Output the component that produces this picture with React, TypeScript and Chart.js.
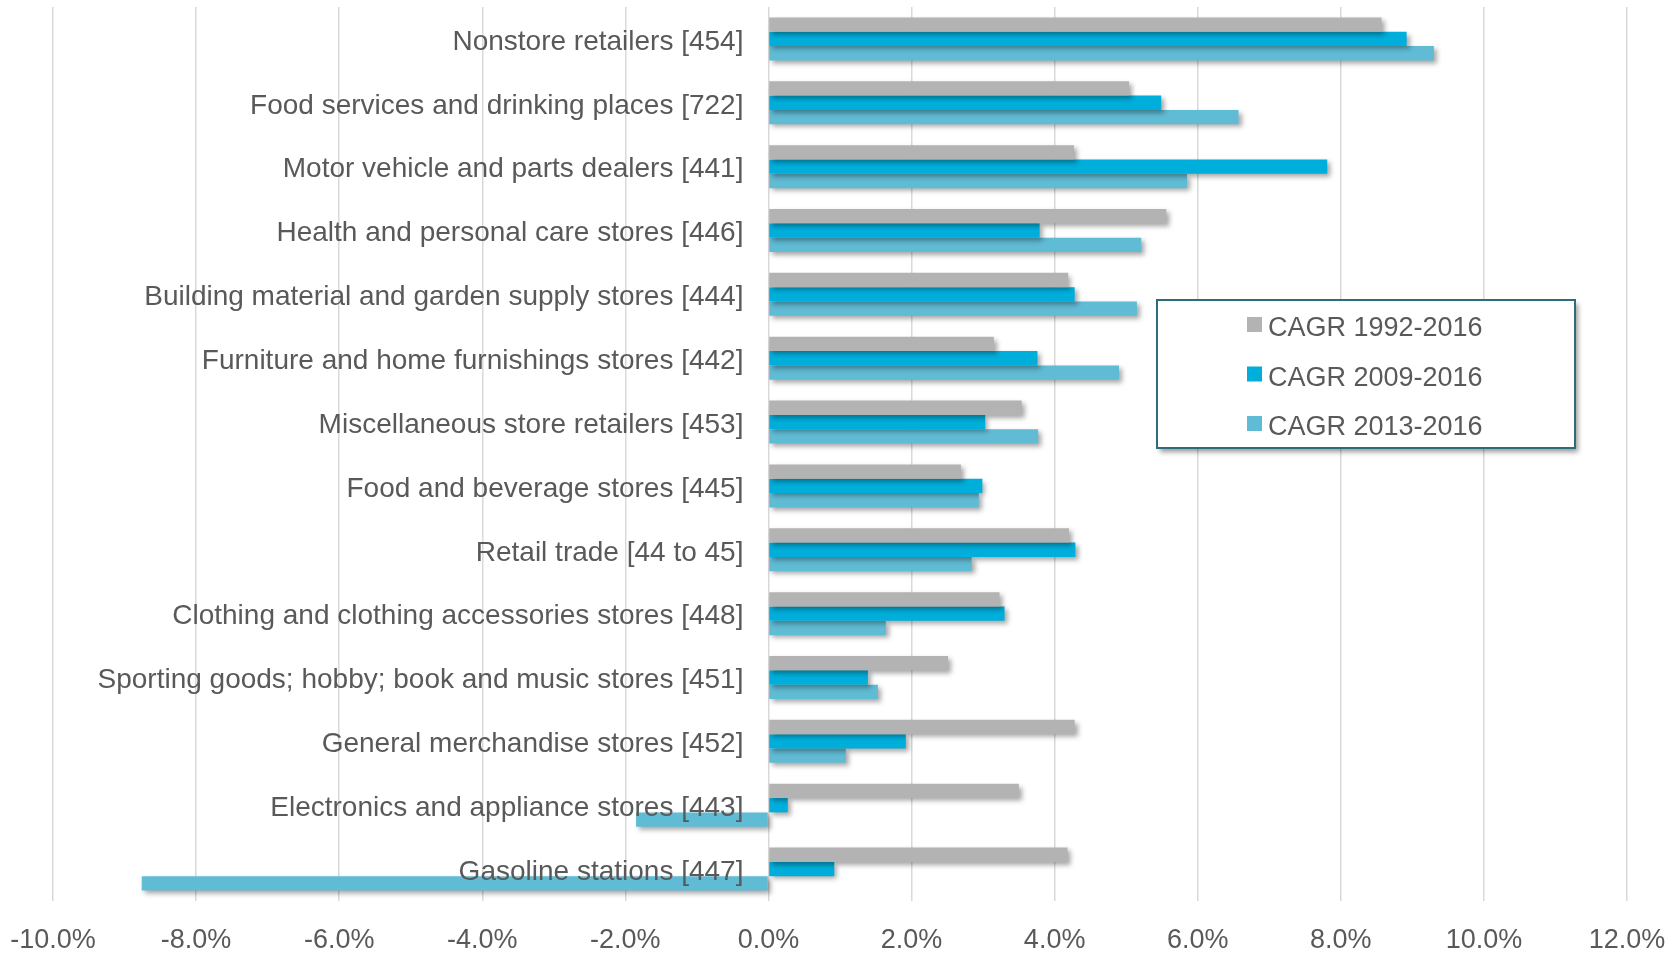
import React, { useEffect, useRef } from 'react';
import { Chart, registerables } from 'chart.js';

Chart.register(...registerables);

const CATEGORIES = [
  'Nonstore retailers [454]',
  'Food services and drinking places [722]',
  'Motor vehicle and parts dealers [441]',
  'Health and personal care stores [446]',
  'Building material and garden supply stores [444]',
  'Furniture and home furnishings stores [442]',
  'Miscellaneous store retailers [453]',
  'Food and beverage stores [445]',
  'Retail trade [44 to 45]',
  'Clothing and clothing accessories stores [448]',
  'Sporting goods; hobby; book and music stores [451]',
  'General merchandise stores [452]',
  'Electronics and appliance stores [443]',
  'Gasoline stations [447]',
];

const SERIES_NAMES = ['CAGR 1992-2016', 'CAGR 2009-2016', 'CAGR 2013-2016'];

const CAGR_1992_2016 = [8.57, 5.04, 4.27, 5.56, 4.19, 3.15, 3.54, 2.69, 4.2, 3.23, 2.51, 4.28, 3.5, 4.18];
const CAGR_2009_2016 = [8.92, 5.49, 7.81, 3.79, 4.28, 3.76, 3.03, 2.99, 4.29, 3.3, 1.39, 1.92, 0.27, 0.92];
const CAGR_2013_2016 = [9.3, 6.57, 5.85, 5.21, 5.15, 4.9, 3.77, 2.94, 2.84, 1.64, 1.53, 1.08, -1.85, -8.76];

const X_TICKS = [-10, -8, -6, -4, -2, 0, 2, 4, 6, 8, 10, 12];

const COLORS = ['#B3B3B3', '#00AEDB', '#60BBD4'];
const TEXT_COLOR = '#595959';
const FONT = '"Liberation Sans", Arial, sans-serif';

const decorPlugin = {
  id: 'decor',
  beforeDatasetsDraw(chart: any) {
    const ctx = chart.ctx;
    ctx.save();
    ctx.shadowColor = 'rgba(0,0,0,0.35)';
    ctx.shadowBlur = 5;
    ctx.shadowOffsetX = 3;
    ctx.shadowOffsetY = 3;
  },
  afterDatasetsDraw(chart: any) {
    const ctx = chart.ctx;
    ctx.restore();
    // category labels right-aligned next to the zero line
    const xs = chart.scales.x;
    const ys = chart.scales.y;
    const x0 = xs.getPixelForValue(0) - 25;
    ctx.save();
    ctx.font = `28px ${FONT}`;
    ctx.fillStyle = TEXT_COLOR;
    ctx.textAlign = 'right';
    ctx.textBaseline = 'middle';
    CATEGORIES.forEach((c, i) => {
      ctx.fillText(c, x0, ys.getPixelForValue(i) + 3);
    });
    ctx.restore();
  },
  afterDraw(chart: any) {
    const ctx = chart.ctx;
    const bx = 1157, by = 300, bw = 418, bh = 148;
    ctx.save();
    ctx.shadowColor = 'rgba(0,0,0,0.4)';
    ctx.shadowBlur = 5;
    ctx.shadowOffsetX = 3;
    ctx.shadowOffsetY = 4;
    ctx.fillStyle = '#FFFFFF';
    ctx.fillRect(bx, by, bw, bh);
    ctx.restore();
    ctx.save();
    ctx.strokeStyle = '#2E6C7B';
    ctx.lineWidth = 2;
    ctx.strokeRect(bx, by, bw, bh);
    ctx.font = `27px ${FONT}`;
    ctx.textAlign = 'left';
    ctx.textBaseline = 'middle';
    SERIES_NAMES.forEach((name, i) => {
      const cy = by + 28 + i * 49.5;
      ctx.fillStyle = COLORS[i];
      ctx.fillRect(bx + 90, cy - 11, 15, 15);
      ctx.fillStyle = TEXT_COLOR;
      ctx.fillText(name, bx + 111, cy + 1);
    });
    ctx.restore();
  },
};

export default function App() {
  const ref = useRef<HTMLCanvasElement | null>(null);

  useEffect(() => {
    if (!ref.current) return;
    const chart = new Chart(ref.current, {
      type: 'bar',
      data: {
        labels: CATEGORIES,
        datasets: [
          { label: SERIES_NAMES[0], data: CAGR_1992_2016, backgroundColor: COLORS[0] },
          { label: SERIES_NAMES[1], data: CAGR_2009_2016, backgroundColor: COLORS[1] },
          { label: SERIES_NAMES[2], data: CAGR_2013_2016, backgroundColor: COLORS[2] },
        ],
      },
      options: {
        indexAxis: 'y',
        responsive: false,
        animation: false,
        devicePixelRatio: 1,
        layout: { padding: { left: 53, right: 52, top: 7, bottom: 0 } },
        datasets: {
          bar: { categoryPercentage: 0.673, barPercentage: 1, borderWidth: 0 },
        },
        plugins: {
          legend: { display: false },
          tooltip: { enabled: false },
        },
        scales: {
          x: {
            type: 'linear',
            min: -10,
            max: 12,
            afterBuildTicks: (s: any) => {
              s.ticks = X_TICKS.map((v) => ({ value: v }));
            },
            afterFit: (s: any) => {
              s.height = 53;
              s.paddingLeft = 0;
              s.paddingRight = 0;
            },
            grid: { color: '#D9D9D9', lineWidth: 1.5, drawTicks: false },
            border: { display: false },
            ticks: {
              padding: 23,
              color: TEXT_COLOR,
              font: { family: FONT, size: 27 },
              maxRotation: 0,
              autoSkip: false,
              callback: (v: any) => Number(v).toFixed(1) + '%',
            },
          },
          y: {
            type: 'category',
            display: false,
          },
        },
      },
      plugins: [decorPlugin],
    });
    return () => chart.destroy();
  }, []);

  return (
    <div style={{ position: 'fixed', left: 0, top: 0, width: 1679, height: 954, background: '#fff' }}>
      <canvas ref={ref} width={1679} height={954} style={{ display: 'block' }} />
    </div>
  );
}
